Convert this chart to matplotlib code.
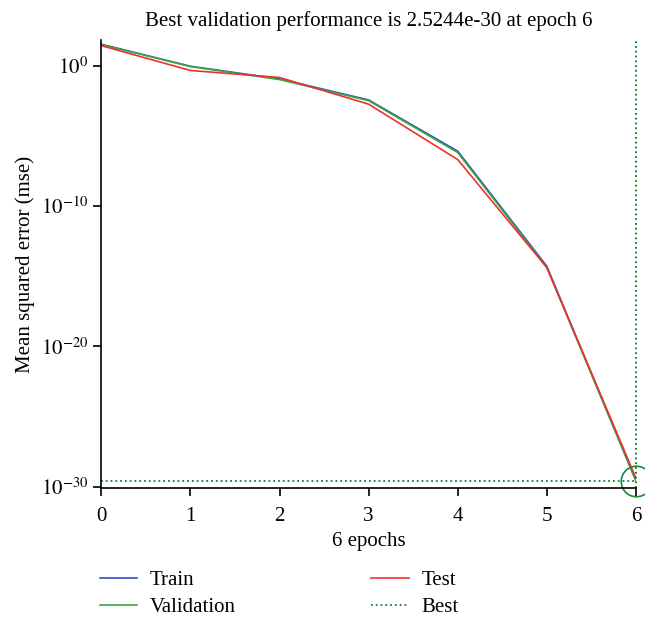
import matplotlib.pyplot as plt
import numpy as np

plt.rcParams["font.family"] = ["Liberation Serif", "DejaVu Serif"]
plt.rcParams["mathtext.fontset"] = "stix"

epochs = [0, 1, 2, 3, 4, 5, 6]
train = [10**1.52, 10**-0.05, 10**-0.95, 10**-2.45, 10**-6.1, 10**-14.3, 2.5e-30]
validation = [10**1.5, 10**-0.07, 10**-1.0, 10**-2.5, 10**-6.2, 10**-14.4, 2.5244e-30]
test = [10**1.42, 10**-0.35, 10**-0.85, 10**-2.75, 10**-6.7, 10**-14.4, 10**-29.4]
best_epoch = 6
best_perf = 2.5244e-30

fig = plt.figure(figsize=(6.45, 6.2), dpi=100)
ax = fig.add_axes([0.157, 0.213, 0.829, 0.722])

ax.plot(epochs, train, color="#3050c8", lw=1.2, label="Train")
ax.plot(epochs, validation, color="#3aa83a", lw=1.2, label="Validation")
ax.plot(epochs, test, color="#f03030", lw=1.2, label="Test")
ax.plot([0, best_epoch], [best_perf, best_perf], ":", color="#1a7a3a", lw=1.3, label="Best")
# axes-coord span, so it can be unclipped without running past the frame
ax.axvline(best_epoch, ls=":", color="#007a20", lw=1.3, clip_on=False)
ax.plot([best_epoch], [best_perf], "o", mfc="none", mec="#1a8a3a", ms=22, mew=1.2,
        clip_on=False)

ax.set_yscale("log")
ax.set_xlim(0, 6)
ax.set_ylim(10**-30.1, 10**1.8)
ax.set_yticks([1e0, 1e-10, 1e-20, 1e-30])
ax.set_yticklabels([r"$10^{0}$", r"$10^{-10}$", r"$10^{-20}$", r"$10^{-30}$"])
ax.minorticks_off()
ax.set_xticks(epochs)
ax.tick_params(direction="out", labelsize=15, length=6, width=1.2)
ax.tick_params(axis="x", pad=8)
for s in ["top", "right"]:
    ax.spines[s].set_visible(False)
for s in ["left", "bottom"]:
    ax.spines[s].set_linewidth(1.2)

ax.set_title("Best validation performance is 2.5244e-30 at epoch 6", fontsize=15, pad=10)
ax.set_xlabel("6 epochs", fontsize=15, labelpad=4)
ax.set_ylabel("Mean squared error (mse)", fontsize=15)

fig.legend(loc="lower left", bbox_to_anchor=(0.155, 0.005), ncol=2, frameon=False,
           fontsize=15, borderpad=0, borderaxespad=0, columnspacing=6.5,
           handlelength=1.8, handletextpad=0.6, labelspacing=0.35)

plt.savefig("out.png", dpi=100)
plt.close()
